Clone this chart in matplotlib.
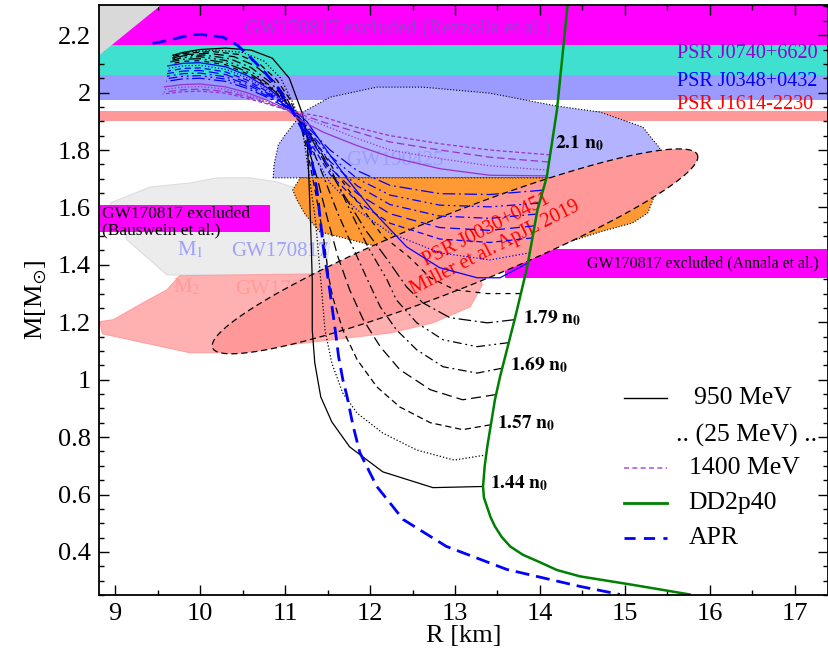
import numpy as np
import matplotlib.pyplot as plt
from matplotlib.patches import Polygon
from matplotlib.lines import Line2D
from matplotlib.ticker import MultipleLocator, FormatStrFormatter

plt.rcParams['font.family'] = ['Liberation Serif', 'DejaVu Serif']
plt.rcParams['mathtext.fontset'] = 'stix'

# hadronic DD2p40 and APR mass-radius curves (R [km], M [Msun])
dd2_R = [15.76, 15.1, 14.47, 14.2, 14.0, 13.8, 13.65, 13.55, 13.47, 13.42, 13.376, 13.34,
         13.33, 13.35, 13.38, 13.47, 13.53, 13.71, 13.85, 13.97, 14.08, 14.2, 14.33]
dd2_M = [0.252, 0.285, 0.315, 0.337, 0.364, 0.39, 0.419, 0.452, 0.489, 0.52, 0.558, 0.59,
         0.628, 0.7, 0.767, 0.93, 1.01, 1.219, 1.393, 1.591, 1.706, 1.939, 2.32]

apr_R = [9.44, 9.53, 9.88, 10.0, 10.27, 10.44, 10.59, 10.74, 10.91, 11.06, 11.21, 11.29,
         11.38, 11.45, 11.53, 11.59, 11.63, 11.68, 11.73, 11.8, 11.88, 12.08, 12.39, 12.9,
         13.61, 14.47, 14.94]
apr_M = [2.172, 2.176, 2.2, 2.203, 2.193, 2.165, 2.123, 2.078, 2.019, 1.95, 1.869, 1.81,
         1.65, 1.463, 1.303, 1.174, 1.08, 1.0, 0.941, 0.84, 0.746, 0.628, 0.513, 0.419,
         0.339, 0.28, 0.252]

# hybrid branches, 950 ... 1400 MeV
mev950 = [(13.33, 0.628), (12.74, 0.624), (12.15, 0.679), (11.76, 0.766), (11.55, 0.853),
          (11.42, 0.94), (11.35, 1.058), (11.32, 1.173), (11.32, 1.348), (11.3, 1.55),
          (11.28, 1.70), (11.26, 1.85), (11.2, 1.93), (11.05, 2.05), (10.85, 2.12),
          (10.6, 2.148), (10.3, 2.155), (10.0, 2.15), (9.8, 2.14), (9.68, 2.13)]
mev975 = [(13.37, 0.738), (12.99, 0.72), (12.55, 0.755), (12.15, 0.814), (11.85, 0.883),
          (11.68, 0.953), (11.55, 1.058), (11.47, 1.173), (11.42, 1.348), (11.36, 1.55),
          (11.28, 1.72), (11.2, 1.88), (11.1, 1.96), (10.95, 2.05), (10.75, 2.11),
          (10.5, 2.14), (10.2, 2.148), (9.9, 2.143), (9.68, 2.13)]
mev1000 = [(13.42, 0.843), (13.09, 0.826), (12.71, 0.85), (12.35, 0.905), (12.08, 0.975),
           (11.85, 1.069), (11.68, 1.173), (11.56, 1.288), (11.52, 1.348), (11.45, 1.5),
           (11.36, 1.65), (11.26, 1.8), (11.17, 1.9), (11.05, 1.98), (10.9, 2.045),
           (10.7, 2.1), (10.45, 2.133), (10.15, 2.143), (9.85, 2.138), (9.67, 2.125)]
mev1025 = [(13.48, 0.948), (13.09, 0.93), (12.71, 0.965), (12.35, 1.035), (12.12, 1.115),
           (11.92, 1.209), (11.76, 1.313), (11.62, 1.43), (11.5, 1.56), (11.38, 1.7),
           (11.26, 1.82), (11.16, 1.9), (11.02, 1.98), (10.87, 2.04), (10.65, 2.093),
           (10.4, 2.125), (10.1, 2.137), (9.85, 2.133), (9.67, 2.12)]
mev1050 = [(13.555, 1.04), (13.26, 1.023), (12.86, 1.045), (12.55, 1.104), (12.31, 1.174),
           (12.12, 1.254), (11.97, 1.348), (11.8, 1.46), (11.62, 1.58), (11.45, 1.71),
           (11.3, 1.82), (11.17, 1.9), (11.0, 1.978), (10.83, 2.035), (10.6, 2.087),
           (10.35, 2.118), (10.05, 2.131), (9.8, 2.128), (9.66, 2.117)]
mev1075 = [(13.63, 1.129), (13.26, 1.115), (12.86, 1.139), (12.55, 1.198), (12.31, 1.278),
           (12.2, 1.348), (11.98, 1.46), (11.78, 1.58), (11.56, 1.72), (11.35, 1.83),
           (11.18, 1.9), (11.0, 1.975), (10.8, 2.03), (10.57, 2.08), (10.3, 2.112),
           (10.0, 2.125), (9.8, 2.122), (9.66, 2.112)]
mev1100 = [(13.70, 1.209), (13.38, 1.198), (12.94, 1.216), (12.62, 1.268), (12.43, 1.323),
           (12.2, 1.42), (11.95, 1.52), (11.7, 1.64), (11.48, 1.75), (11.3, 1.845),
           (11.18, 1.905), (11.0, 1.972), (10.8, 2.025), (10.55, 2.073), (10.3, 2.104),
           (10.0, 2.118), (9.8, 2.116), (9.65, 2.107)]
mev1125 = [(13.77, 1.30), (13.38, 1.30), (13.0, 1.313), (12.71, 1.355), (12.45, 1.43),
           (12.15, 1.5), (11.85, 1.62), (11.6, 1.72), (11.38, 1.82), (11.19, 1.905),
           (11.0, 1.97), (10.8, 2.02), (10.55, 2.066), (10.3, 2.097), (10.0, 2.111),
           (9.8, 2.109), (9.65, 2.1)]
mev1150 = [(13.86, 1.407), (13.53, 1.355), (13.26, 1.355), (12.82, 1.39), (12.43, 1.463),
           (12.04, 1.585), (11.73, 1.70), (11.45, 1.815), (11.26, 1.898), (11.0, 1.967),
           (10.8, 2.015), (10.55, 2.06), (10.3, 2.09), (10.0, 2.104), (9.8, 2.102), (9.62, 2.093)]
mev1175 = [(13.88, 1.442), (13.41, 1.417), (12.82, 1.442), (12.235, 1.511), (11.85, 1.591),
           (11.53, 1.685), (11.33, 1.789), (11.18, 1.904), (11.0, 1.963), (10.8, 2.008),
           (10.55, 2.052), (10.3, 2.081), (10.0, 2.095), (9.8, 2.093), (9.62, 2.084)]
mev1200 = [(13.91, 1.494), (13.41, 1.478), (12.82, 1.49), (12.235, 1.545), (11.85, 1.62),
           (11.53, 1.715), (11.33, 1.81), (11.18, 1.905), (11.0, 1.96), (10.8, 2.002),
           (10.55, 2.044), (10.3, 2.072), (10.0, 2.086), (9.8, 2.084), (9.62, 2.075)]
mev1225 = [(13.94, 1.536), (13.41, 1.52), (12.82, 1.53), (12.235, 1.578), (11.85, 1.648),
           (11.53, 1.738), (11.33, 1.822), (11.18, 1.905), (11.0, 1.957), (10.8, 1.997),
           (10.55, 2.036), (10.3, 2.063), (10.0, 2.077), (9.8, 2.075), (9.61, 2.066)]
mev1250 = [(13.96, 1.577), (13.41, 1.562), (12.82, 1.57), (12.235, 1.61), (11.85, 1.675),
           (11.53, 1.76), (11.33, 1.835), (11.18, 1.906), (11.0, 1.955), (10.8, 1.992),
           (10.55, 2.029), (10.3, 2.055), (10.0, 2.068), (9.8, 2.066), (9.61, 2.057)]
mev1275 = [(13.99, 1.615), (13.41, 1.602), (12.82, 1.608), (12.235, 1.643), (11.85, 1.70),
           (11.53, 1.78), (11.33, 1.848), (11.18, 1.907), (11.0, 1.952), (10.8, 1.987),
           (10.55, 2.022), (10.3, 2.047), (10.0, 2.059), (9.8, 2.057), (9.6, 2.048)]
mev1300 = [(14.03, 1.66), (13.41, 1.645), (12.82, 1.648), (12.235, 1.677), (11.85, 1.728),
           (11.53, 1.8), (11.33, 1.86), (11.18, 1.908), (11.0, 1.95), (10.8, 1.982),
           (10.55, 2.015), (10.3, 2.039), (10.0, 2.05), (9.8, 2.048), (9.6, 2.039)]
mev1325 = [(14.08, 1.71), (13.41, 1.712), (12.82, 1.735), (12.235, 1.776), (11.85, 1.815),
           (11.45, 1.862), (11.18, 1.904), (11.0, 1.945), (10.8, 1.972), (10.55, 2.0),
           (10.3, 2.02), (10.0, 2.03), (9.8, 2.028), (9.58, 2.02)]
mev1350 = [(14.09, 1.73), (13.41, 1.745), (12.82, 1.77), (12.235, 1.80), (11.85, 1.84),
           (11.45, 1.887), (11.18, 1.918), (11.0, 1.943), (10.8, 1.967), (10.55, 1.992),
           (10.3, 2.012), (10.0, 2.021), (9.8, 2.019), (9.57, 2.011)]
mev1375 = [(14.11, 1.758), (13.41, 1.775), (12.82, 1.80), (12.235, 1.828), (11.85, 1.862),
           (11.45, 1.897), (11.18, 1.925), (11.0, 1.942), (10.8, 1.963), (10.55, 1.986),
           (10.3, 2.004), (10.0, 2.012), (9.8, 2.01), (9.57, 2.002)]
mev1400 = [(14.12, 1.783), (13.41, 1.80), (12.82, 1.822), (12.235, 1.85), (11.85, 1.878),
           (11.45, 1.915), (11.18, 1.93), (11.0, 1.941), (10.8, 1.96), (10.55, 1.98),
           (10.3, 1.998), (10.0, 2.005), (9.8, 2.003), (9.56, 1.995)]

hybrid = [mev950, mev975, mev1000, mev1025, mev1050, mev1075, mev1100, mev1125,
          mev1150, mev1175, mev1200, mev1225, mev1250, mev1275, mev1300,
          mev1325, mev1350, mev1375, mev1400]
styles = ['-', ':', (0, (5, 3)), (0, (8, 4)), (0, (7, 3, 1.5, 3)),
          (0, (7, 3, 1.5, 3, 1.5, 3)), (0, (10, 3, 1.5, 3)), (0, (4, 4))]
hyb_styles = styles + styles[:7] + ['-', ':', (0, (6, 3)), (0, (3, 2))]
hyb_colors = ['black'] * 8 + ['blue'] * 7 + ['darkorchid'] * 4

# observational constraints
psr_bands = [(2.06, 2.24, '#40e0d0'), (1.975, 2.06, '#9b9bff'), (1.90, 1.935, '#ff9999'),
             (2.167, 2.32, '#ff00ff')]
causal_R = [8.6, 8.6, 9.6]
causal_M = [2.08, 2.32, 2.32]
m1_R = [8.94, 9.14, 9.61, 11.47, 11.53, 11.41, 11.09, 10.9, 10.59, 10.2, 9.88, 9.41]
m1_M = [1.615, 1.487, 1.365, 1.365, 1.487, 1.626, 1.671, 1.689, 1.703, 1.703, 1.685, 1.671]
m2_R = [8.82, 8.98, 9.33, 9.61, 9.76, 11.53, 12.59, 13.27, 13.32, 13.18, 12.74, 12.24,
        11.06, 10.2, 9.88, 8.85]
m2_M = [1.202, 1.209, 1.268, 1.313, 1.362, 1.369, 1.376, 1.383, 1.33, 1.254, 1.198, 1.163,
        1.122, 1.094, 1.094, 1.16]
gw190425_R = [10.86, 10.87, 10.92, 11.0, 11.21, 11.53, 12.08, 12.62, 13.41, 14.2, 14.71,
              15.21, 15.33, 15.41, 15.35, 14.71]
gw190425_M = [1.703, 1.748, 1.817, 1.852, 1.932, 1.984, 2.019, 2.019, 1.998, 1.953, 1.932,
              1.88, 1.835, 1.807, 1.748, 1.703]
riley_R = [11.18, 15.29, 15.35, 15.27, 15.09, 14.71, 14.24, 12.94, 12.0, 11.41, 11.24, 11.14, 11.09]
riley_M = [1.703, 1.703, 1.643, 1.581, 1.546, 1.515, 1.47, 1.417, 1.47, 1.515, 1.574, 1.626, 1.661]
bauswein_R = (8.81, 10.82)
bauswein_M = (1.513, 1.61)
annala_R = (13.59, 17.5)
annala_M = (1.355, 1.456)
miller_center = (13.0, 1.447)
miller_major = (2.853, 0.336)
miller_minor = (0.161, -0.12)

fig = plt.figure(figsize=(8.29, 6.62), dpi=100)
ax = fig.add_axes([0.1194, 0.1012, 0.8794, 0.8912])

for lo, hi, c in psr_bands:
    ax.axhspan(lo, hi, color=c, lw=0, zorder=1)
ax.fill(causal_R, causal_M, color='#d9d9d9', lw=0, zorder=2)

ax.add_patch(Polygon(np.column_stack([m1_R, m1_M]), fc='#ececec', ec='#dddddd', lw=0.8, zorder=3))
ax.add_patch(Polygon(np.column_stack([m2_R, m2_M]), fc='#ffb0b0', ec='#ffa0a0', lw=0.8, zorder=3))
ax.fill_between(bauswein_R, bauswein_M[0], bauswein_M[1], color='#ff00ff', lw=0, zorder=4)
ax.text(bauswein_R[0] + 0.04, bauswein_M[1] - 0.005, 'GW170817 excluded\n(Bauswein et al.)',
        fontsize=12.5, va='top', ha='left', linespacing=1.0, zorder=5)
ax.add_patch(Polygon(np.column_stack([gw190425_R, gw190425_M]), fc='#b3b3ff', ec='black',
                     lw=0.8, ls=':', zorder=4))
ax.add_patch(Polygon(np.column_stack([riley_R, riley_M]), fc='#ff9933', ec='black',
                     lw=0.8, ls=':', zorder=4))
ax.fill_between(annala_R, annala_M[0], annala_M[1], color='#ff00ff', lw=0, zorder=4)
ax.text(15.92, 1.405, 'GW170817 excluded (Annala et al.)', fontsize=11.5, ha='center',
        va='center', zorder=5)

ax.text(9.88, 1.452, 'M$_1$', color='#a0a0ff', fontsize=15, ha='center', va='center', zorder=5)
ax.text(10.94, 1.447, 'GW170817', color='#a0a0ff', fontsize=15, ha='center', va='center', zorder=5)
ax.text(9.85, 1.323, 'M$_2$', color='#ff9c9c', fontsize=15, ha='center', va='center', zorder=4)
ax.text(10.98, 1.315, 'GW170817', color='#ff9c9c', fontsize=15, ha='center', va='center', zorder=4)
ax.text(12.29, 1.765, 'GW190425', color='#9d9dff', fontsize=15, ha='center', va='center', zorder=5)

t = np.linspace(0, 2 * np.pi, 200)
ell_R = miller_center[0] + miller_major[0] * np.cos(t) + miller_minor[0] * np.sin(t)
ell_M = miller_center[1] + miller_major[1] * np.cos(t) + miller_minor[1] * np.sin(t)
ax.fill(ell_R, ell_M, fc='#ff9999', ec='black', lw=0.9, ls=(0, (5, 3)), zorder=6)
ax.text(13.42, 1.49, 'PSR J0030+0451\nMiller et al. ApJL 2019', color='red', fontsize=14.5,
        rotation=27, ha='center', va='center', multialignment='center', linespacing=1.0,
        rotation_mode='anchor', zorder=7)

ax.text(12.32, 2.217, 'GW170817 excluded (Rezzolla et al.)', color='#9640d0', fontsize=14.5,
        ha='center', va='center', zorder=5)
ax.text(17.27, 2.137, 'PSR J0740+6620', color='#9400d3', fontsize=14.5, ha='right', va='center', zorder=5)
ax.text(17.27, 2.037, 'PSR J0348+0432', color='blue', fontsize=14.5, ha='right', va='center', zorder=5)
ax.text(17.22, 1.96, 'PSR J1614-2230', color='red', fontsize=14.5, ha='right', va='center', zorder=5)

for curve, ls, c in zip(hybrid, hyb_styles, hyb_colors):
    r, m = zip(*curve)
    ax.plot(r, m, color=c, ls=ls, lw=0.9, zorder=8)
ax.plot(apr_R, apr_M, color='blue', lw=2, ls=(0, (5, 2.5)), zorder=9)
ax.plot(dd2_R, dd2_M, color='green', lw=1.8, zorder=9)

for x, y, s in [(14.18, 1.824, '2.1'), (13.8, 1.216, '1.79'), (13.65, 1.049, '1.69'),
                (13.49, 0.85, '1.57'), (13.41, 0.638, '1.44')]:
    ax.text(x, y, r'$\mathbf{' + s + r'\ n_0}$', fontsize=14, ha='left', va='center', zorder=10)

# hand-made legend
tr = ax.transAxes
rows = [(0.334, 'black', '-', 1.0, '950 MeV', 0.816),
        (0.271, None, None, 0, '.. (25 MeV) ..', 0.792),
        (0.215, '#b060e0', (0, (3, 2)), 1.2, '1400 MeV', 0.809),
        (0.156, 'green', '-', 2.0, 'DD2p40', 0.809),
        (0.0966, 'blue', (0, (4, 3)), 2.0, 'APR', 0.809)]
for y, c, ls, lw, lab, xt in rows:
    if c is not None:
        ax.add_line(Line2D([0.7205, 0.779], [y, y], color=c, ls=ls, lw=lw, transform=tr, zorder=10))
    ax.text(xt, y, lab, fontsize=18.5, transform=tr, va='center', ha='left', zorder=10)

ax.set_xlim(8.81, 17.39)
ax.set_ylim(0.25, 2.305)
ax.xaxis.set_major_locator(MultipleLocator(1))
ax.xaxis.set_minor_locator(MultipleLocator(0.5))
ax.yaxis.set_major_locator(MultipleLocator(0.2))
ax.yaxis.set_minor_locator(MultipleLocator(0.05))
ax.yaxis.set_major_formatter(FormatStrFormatter('%g'))
ax.tick_params(which='both', direction='in', top=True, right=True, labelsize=19, width=1)
ax.tick_params(which='major', length=7, pad=6)
ax.tick_params(which='minor', length=3.5)
for sp in ax.spines.values():
    sp.set_linewidth(1.3)
    sp.set_zorder(12)
ax.set_xlabel('R [km]', fontsize=19, labelpad=0)
ax.set_ylabel(r'M[M$_{\odot}$]', fontsize=19, labelpad=6)

fig.savefig('out.png', dpi=100)
